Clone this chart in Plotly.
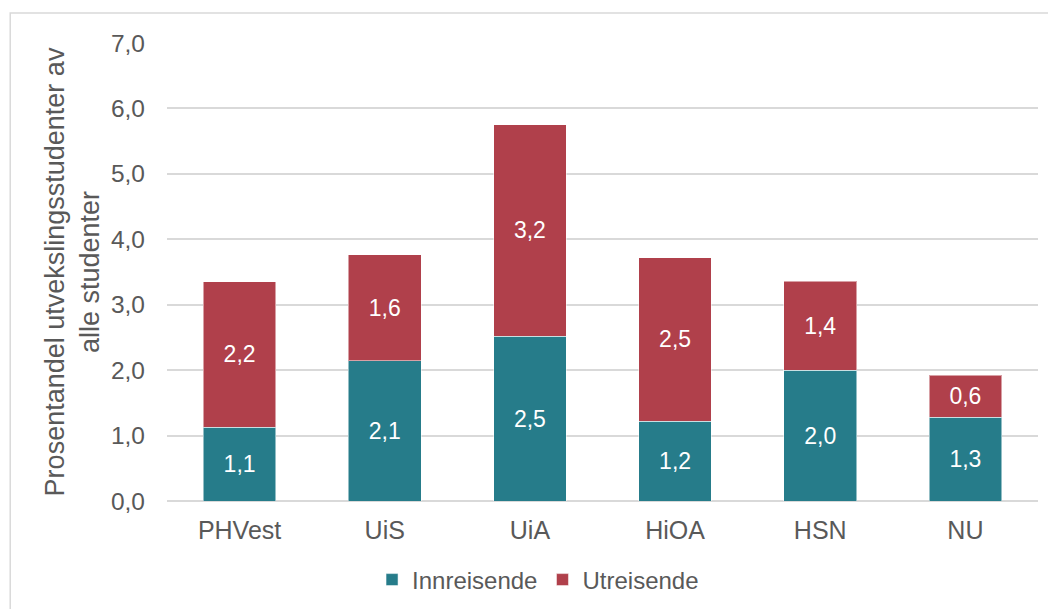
import plotly.graph_objects as go

# Data
institutions = ["PHVest", "UiS", "UiA", "HiOA", "HSN", "NU"]
innreisende = [1.13, 2.14, 2.52, 1.22, 2.00, 1.28]
utreisende = [2.22, 1.62, 3.23, 2.50, 1.36, 0.64]
y_ticks = [0, 1, 2, 3, 4, 5, 6, 7]

teal = "#267C8A"
red = "#B0404B"
grey = "#595959"
font = "Liberation Sans, Arial, sans-serif"

fig = go.Figure()

for name, vals, color in [("Innreisende", innreisende, teal), ("Utreisende", utreisende, red)]:
    fig.add_trace(go.Bar(
        name=name,
        x=institutions,
        y=vals,
        marker=dict(color=color, line=dict(color="rgba(255,255,255,0.5)", width=1)),
        texttemplate="%{y:.1f}",
        textposition="inside",
        insidetextanchor="middle",
        textfont=dict(color="white", size=23, family=font),
        width=0.5,
    ))

# page body has an 8px margin, so the figure is a bit smaller than the window
fig.update_layout(
    barmode="stack",
    separators=",.",
    width=1048,
    height=601,
    plot_bgcolor="white",
    paper_bgcolor="white",
    margin=dict(l=159, r=18, t=35, b=108, autoexpand=False),
    font=dict(family=font, color=grey, size=24),
    uniformtext=dict(mode="show", minsize=10),
    legend=dict(
        orientation="h",
        x=0.426,
        xanchor="center",
        y=-0.1725,
        yanchor="middle",
        font=dict(size=24, color=grey),
        traceorder="normal",
        itemwidth=30,
    ),
    shapes=[dict(
        type="rect", xref="paper", yref="paper",
        x0=-0.180, x1=1.2, y0=-0.4, y1=1.0655,
        line=dict(color="#D9D9D9", width=1.5),
        fillcolor="rgba(0,0,0,0)", layer="below",
    )],
)

fig.update_yaxes(
    range=[0, 7],
    tickvals=y_ticks,
    tickformat=".1f",
    showgrid=True,
    gridcolor="#D9D9D9",
    gridwidth=1.5,
    zeroline=True,
    zerolinecolor="#D9D9D9",
    zerolinewidth=1.5,
    ticks="",
    ticklabelstandoff=21,
    tickfont=dict(size=24.5, color=grey),
    automargin=False,
    title=dict(
        text="Prosentandel utvekslingsstudenter av<br>alle studenter",
        font=dict(size=27, color=grey),
        standoff=3,
    ),
)

fig.update_xaxes(
    showgrid=False,
    ticks="",
    showline=False,
    automargin=False,
    tickfont=dict(size=25, color=grey),
    ticklabelstandoff=12,
)

fig.write_html("out.html")
